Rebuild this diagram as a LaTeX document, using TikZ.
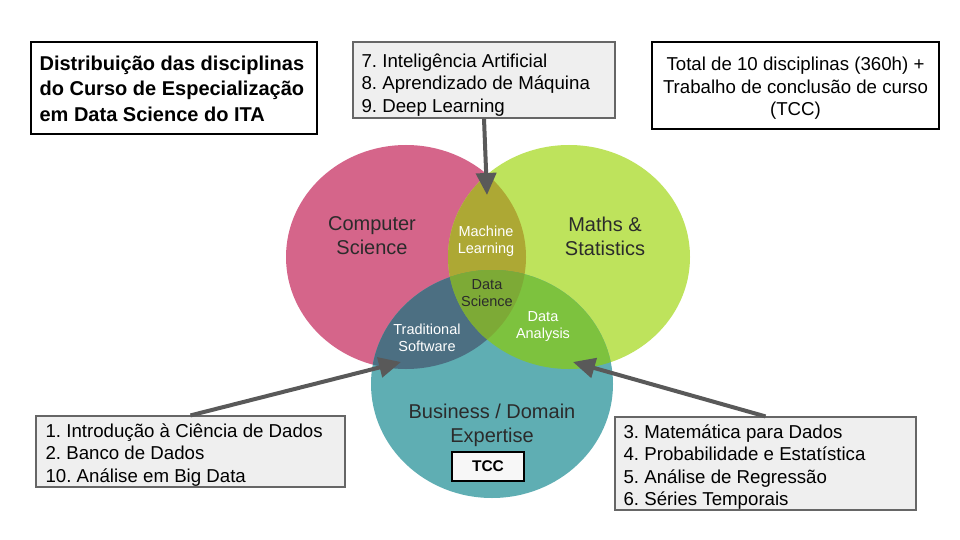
\documentclass[tikz,border=0pt]{standalone}
\usepackage{fontspec}
\setmainfont{Liberation Sans}
\usetikzlibrary{arrows.meta}
\frenchspacing
\hyphenpenalty=10000
\exhyphenpenalty=10000
\definecolor{csred}{HTML}{D5658A}
\definecolor{msgreen}{HTML}{BEE35C}
\definecolor{bdteal}{HTML}{5FAEB3}
\definecolor{mlolive}{HTML}{ADA834}
\definecolor{tsslate}{HTML}{4C6F82}
\definecolor{dagreen}{HTML}{7DC23E}
\definecolor{dsgreen}{HTML}{7DAA36}
\definecolor{boxgray}{HTML}{666666}
\definecolor{boxfill}{HTML}{EFEFEF}
\definecolor{arrowgray}{HTML}{595959}
\definecolor{labeldark}{HTML}{2B2B2B}
\begin{document}
\begin{tikzpicture}[x=1pt,y=-1pt,
  listbox/.style={draw=boxgray, fill=boxfill, line width=1.2pt, inner sep=0pt},
  whitebox/.style={draw=black, fill=white, line width=1.2pt, inner sep=0pt},
  listtext/.style={inner sep=0pt, align=left, font=\fontsize{18.67}{22.3}\selectfont},
  biglabel/.style={text=labeldark, align=center, font=\fontsize{20}{24}\selectfont},
  smalllabel/.style={align=center, font=\fontsize{14.5}{17}\selectfont},
  conn/.style={draw=arrowgray, line width=4pt, -{Triangle[length=22pt,width=20pt]}}
]
\useasboundingbox (0,0) rectangle (960,540);
\fill[white] (0,0) rectangle (960,540);

% Venn circles
\fill[csred] (406,257) ellipse [x radius=120pt, y radius=112pt];
\fill[msgreen] (569,257) ellipse [x radius=121pt, y radius=112pt];
\fill[bdteal] (492,384) ellipse [x radius=121pt, y radius=114pt];
\begin{scope}
  \clip (406,257) ellipse [x radius=120pt, y radius=112pt];
  \fill[mlolive] (569,257) ellipse [x radius=121pt, y radius=112pt];
  \fill[tsslate] (492,384) ellipse [x radius=121pt, y radius=114pt];
\end{scope}
\begin{scope}
  \clip (569,257) ellipse [x radius=121pt, y radius=112pt];
  \fill[dagreen] (492,384) ellipse [x radius=121pt, y radius=114pt];
\end{scope}
\begin{scope}
  \clip (406,257) ellipse [x radius=120pt, y radius=112pt];
  \clip (569,257) ellipse [x radius=121pt, y radius=112pt];
  \fill[dsgreen] (492,384) ellipse [x radius=121pt, y radius=114pt];
\end{scope}

% Venn labels
\node[biglabel] (cs) at (372,236) {Computer\\Science};
\node[biglabel] (ms) at (605,236) {Maths \&\\Statistics};
\node[biglabel] (bd) at (492,425) {Business / Domain\\Expertise};
\node[smalllabel, text=white] (ml) at (486,241) {Machine\\Learning};
\node[smalllabel, text=labeldark] (ds) at (487,293) {Data\\Science};
\node[smalllabel, text=white] (ts) at (427,338) {Traditional\\Software};
\node[smalllabel, text=white] (da) at (543,327) {Data\\Analysis};

\node[whitebox, fill=boxfill!50, minimum width=72pt, minimum height=29pt, font=\fontsize{15.5}{18}\selectfont\bfseries] (tcc) at (488,466.5) {TCC};

% Boxes
\node[whitebox, minimum width=286pt, minimum height=92pt] (title) at (174,88) {};
\node[listtext, anchor=west, font=\fontsize{20}{25.5}\selectfont\bfseries] (titletext) at ([xshift=9pt,yshift=-0.5pt]title.west) {Distribuição das disciplinas\\do Curso de Especialização\\em Data Science do ITA};

\node[whitebox, minimum width=287pt, minimum height=87pt] (total) at (795.5,85.5) {};
\node[listtext, align=center, font=\fontsize{18.67}{22.5}\selectfont] (totaltext) at ([yshift=-3pt]total.center) {Total de 10 disciplinas (360h) +\\Trabalho de conclusão de curso\\(TCC)};

\node[listbox, minimum width=262pt, minimum height=76pt] (mlbox) at (484,80) {};
\node[listtext, anchor=west] (mltext) at ([xshift=9pt,yshift=-5pt]mlbox.west) {7. Inteligência Artificial\\8. Aprendizado de Máquina\\9. Deep Learning};

\node[listbox, minimum width=309pt, minimum height=71pt] (leftbox) at (190.5,451.5) {};
\node[listtext, anchor=west] (lefttext) at ([xshift=10pt,yshift=-3.5pt]leftbox.west) {1. Introdução à Ciência de Dados\\2. Banco de Dados\\10. Análise em Big Data};

\node[listbox, minimum width=301pt, minimum height=93pt] (rightbox) at (765.5,463.5) {};
\node[listtext, anchor=west] (righttext) at ([xshift=9pt,yshift=-3.5pt]rightbox.west) {3. Matemática para Dados\\4. Probabilidade e Estatística\\5. Análise de Regressão\\6. Séries Temporais};

% Arrow tips
\coordinate (mltip) at (487,195);
\coordinate (tstip) at (401,362);
\coordinate (datip) at (573,362);

\draw[conn] (mlbox.south) -- (mltip);
\draw[conn] (leftbox.north) -- (tstip);
\draw[conn] (rightbox.north) -- (datip);
\end{tikzpicture}
\end{document}
